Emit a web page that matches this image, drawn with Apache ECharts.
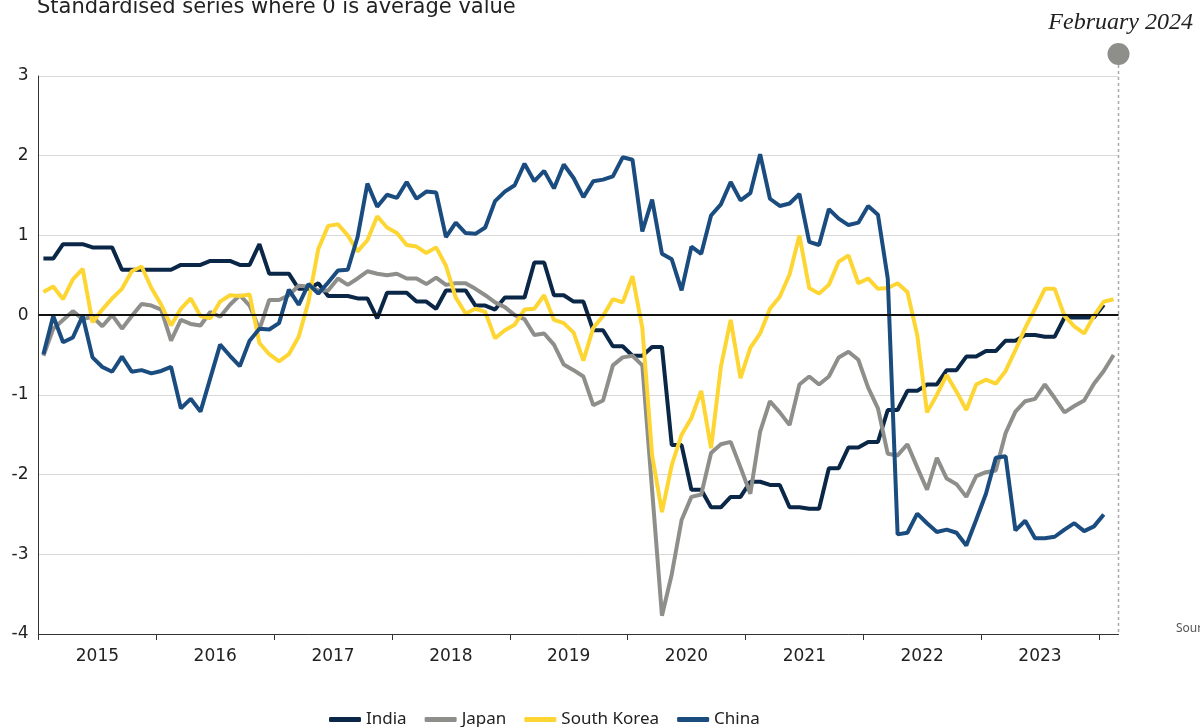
<!DOCTYPE html>
<html>
<head>
<meta charset="utf-8">
<script src="https://cdn.jsdelivr.net/npm/echarts@6/dist/echarts.min.js"></script>
<style>
html, body { margin: 0; padding: 0; background: #fff; }
#chart { width: 1200px; height: 727px; }
</style>
</head>
<body>
<div id="chart"></div>
<script>
// monthly, Jan 2015 .. Feb 2024
var years = ['2015', '2016', '2017', '2018', '2019', '2020', '2021', '2022', '2023'];
var yTicks = [-4, -3, -2, -1, 0, 1, 2, 3];

var india = [0.71, 0.71, 0.89, 0.89, 0.89, 0.85, 0.85, 0.85, 0.57, 0.57, 0.57, 0.57,
    0.57, 0.57, 0.63, 0.63, 0.63, 0.68, 0.68, 0.68, 0.63, 0.63, 0.89, 0.52,
    0.52, 0.52, 0.33, 0.33, 0.40, 0.24, 0.24, 0.24, 0.21, 0.21, -0.04, 0.28,
    0.28, 0.28, 0.17, 0.17, 0.08, 0.31, 0.31, 0.31, 0.12, 0.12, 0.07, 0.22,
    0.22, 0.22, 0.66, 0.66, 0.25, 0.25, 0.17, 0.17, -0.19, -0.19, -0.39, -0.39,
    -0.51, -0.51, -0.40, -0.40, -1.63, -1.63, -2.19, -2.19, -2.41, -2.41, -2.28, -2.28,
    -2.09, -2.09, -2.13, -2.13, -2.41, -2.41, -2.43, -2.43, -1.92, -1.92, -1.66, -1.66,
    -1.59, -1.59, -1.19, -1.19, -0.95, -0.95, -0.87, -0.87, -0.69, -0.69, -0.52, -0.52,
    -0.45, -0.45, -0.32, -0.32, -0.25, -0.25, -0.27, -0.27, -0.03, -0.03, -0.03, -0.03,
    0.13];

var japan = [-0.51, -0.17, -0.06, 0.05, -0.05, -0.02, -0.14, 0.00, -0.17, -0.01, 0.14, 0.12,
    0.07, -0.32, -0.06, -0.11, -0.13, 0.04, -0.02, 0.13, 0.25, 0.12, -0.18, 0.19,
    0.19, 0.25, 0.37, 0.36, 0.31, 0.31, 0.46, 0.38, 0.46, 0.55, 0.52, 0.50,
    0.52, 0.46, 0.46, 0.39, 0.47, 0.38, 0.40, 0.40, 0.33, 0.25, 0.16, 0.10,
    0.00, -0.05, -0.25, -0.23, -0.37, -0.62, -0.69, -0.77, -1.13, -1.07, -0.63, -0.53,
    -0.51, -0.63, -2.20, -3.77, -3.25, -2.57, -2.28, -2.25, -1.73, -1.62, -1.59, -1.91,
    -2.24, -1.46, -1.08, -1.22, -1.38, -0.87, -0.77, -0.87, -0.77, -0.53, -0.46, -0.56,
    -0.91, -1.17, -1.74, -1.76, -1.62, -1.91, -2.19, -1.79, -2.05, -2.12, -2.28, -2.02,
    -1.97, -1.95, -1.48, -1.21, -1.08, -1.05, -0.87, -1.04, -1.22, -1.14, -1.07, -0.86,
    -0.70, -0.50];

var southKorea = [0.29, 0.36, 0.20, 0.45, 0.58, -0.09, 0.07, 0.21, 0.33, 0.55, 0.61, 0.34,
    0.13, -0.13, 0.08, 0.21, -0.01, -0.04, 0.17, 0.25, 0.24, 0.26, -0.35, -0.49,
    -0.58, -0.49, -0.27, 0.17, 0.83, 1.12, 1.14, 1.00, 0.80, 0.94, 1.24, 1.10,
    1.03, 0.88, 0.86, 0.78, 0.85, 0.62, 0.22, 0.02, 0.08, 0.04, -0.29, -0.19,
    -0.12, 0.07, 0.08, 0.25, -0.06, -0.10, -0.22, -0.57, -0.16, -0.01, 0.20, 0.16,
    0.49, -0.16, -1.76, -2.47, -1.88, -1.50, -1.29, -0.95, -1.67, -0.65, -0.06, -0.79,
    -0.41, -0.23, 0.08, 0.23, 0.51, 1.00, 0.34, 0.27, 0.38, 0.67, 0.75, 0.40,
    0.46, 0.33, 0.34, 0.40, 0.29, -0.25, -1.22, -1.00, -0.75, -0.96, -1.19, -0.87,
    -0.81, -0.86, -0.70, -0.44, -0.16, 0.08, 0.33, 0.33, -0.01, -0.14, -0.23, -0.01,
    0.17, 0.20];

var china = [-0.49, -0.01, -0.34, -0.28, -0.01, -0.53, -0.65, -0.71, -0.52, -0.71, -0.69, -0.73,
    -0.70, -0.65, -1.17, -1.05, -1.21, -0.79, -0.37, -0.51, -0.64, -0.32, -0.17, -0.18,
    -0.10, 0.32, 0.13, 0.39, 0.27, 0.41, 0.56, 0.57, 0.98, 1.65, 1.36, 1.51,
    1.47, 1.67, 1.46, 1.55, 1.54, 0.98, 1.16, 1.03, 1.02, 1.10, 1.43, 1.55,
    1.63, 1.90, 1.68, 1.81, 1.59, 1.89, 1.72, 1.48, 1.68, 1.70, 1.74, 1.98,
    1.95, 1.05, 1.45, 0.77, 0.70, 0.31, 0.86, 0.77, 1.25, 1.39, 1.67, 1.44,
    1.53, 2.02, 1.46, 1.37, 1.40, 1.52, 0.92, 0.88, 1.33, 1.21, 1.13, 1.16,
    1.37, 1.26, 0.46, -2.75, -2.73, -2.49, -2.61, -2.72, -2.69, -2.73, -2.89, -2.57,
    -2.24, -1.79, -1.77, -2.70, -2.58, -2.80, -2.80, -2.78, -2.69, -2.61, -2.71, -2.65,
    -2.50];

var months = 110;
var yearTicks = [];
var yearLabels = [];
for (var k = 0; k < years.length + 1; k++) yearTicks.push(k * 12);
for (var k = 0; k < years.length; k++) yearLabels.push(k * 12 + 6);

function toPoints(arr) {
    return arr.map(function (v, i) { return [i + 0.5, v]; });
}

var font = '"Noto Sans", sans-serif';
var axisFont = '"DejaVu Sans", sans-serif';

var myChart = echarts.init(document.getElementById('chart'));

option = {
    animation: false,
    grid: {
        left: 38.5,
        right: 81.5,
        top: 76,
        bottom: 93
    },
    legend: {
        data: ['India', 'Japan', 'South Korea', 'China'],
        left: 324,
        top: 706,
        icon: 'roundRect',
        itemWidth: 32,
        itemHeight: 5,
        itemGap: 18,
        textStyle: { fontFamily: font, fontSize: 17, color: '#222' }
    },
    xAxis: {
        type: 'value',
        min: 0,
        max: months,
        splitLine: { show: false },
        axisLine: { onZero: false, lineStyle: { color: '#333', width: 1 } },
        axisTick: {
            customValues: yearTicks,
            length: 6,
            lineStyle: { color: '#333' }
        },
        axisLabel: {
            customValues: yearLabels,
            formatter: function (v) { return years[(v - 6) / 12]; },
            margin: 14,
            fontFamily: axisFont,
            fontSize: 17,
            color: '#222'
        }
    },
    yAxis: {
        type: 'value',
        min: yTicks[0],
        max: yTicks[yTicks.length - 1],
        interval: 1,
        axisLine: { show: true, onZero: false, lineStyle: { color: '#333', width: 1 } },
        axisTick: { show: false },
        splitLine: { lineStyle: { color: '#d9d9d9', width: 1 } },
        axisLabel: {
            margin: 10,
            fontFamily: axisFont,
            fontSize: 17,
            color: '#222'
        }
    },
    series: [
        {
            name: 'zero',
            type: 'line',
            data: [],
            z: 1,
            silent: true,
            markLine: {
                silent: true,
                symbol: 'none',
                label: { show: false },
                lineStyle: { color: '#111', width: 2, type: 'solid' },
                data: [{ yAxis: 0 }]
            }
        },
        {
            name: 'India',
            type: 'line',
            z: 3,
            showSymbol: false,
            data: toPoints(india),
            itemStyle: { color: '#0b2747' },
            lineStyle: { color: '#0b2747', width: 4 }
        },
        {
            name: 'Japan',
            type: 'line',
            z: 3,
            showSymbol: false,
            data: toPoints(japan),
            itemStyle: { color: '#8e8e8b' },
            lineStyle: { color: '#8e8e8b', width: 4 }
        },
        {
            name: 'South Korea',
            type: 'line',
            z: 3,
            showSymbol: false,
            data: toPoints(southKorea),
            itemStyle: { color: '#fed634' },
            lineStyle: { color: '#fed634', width: 4 }
        },
        {
            name: 'China',
            type: 'line',
            z: 3,
            showSymbol: false,
            data: toPoints(china),
            itemStyle: { color: '#1a4c7f' },
            lineStyle: { color: '#1a4c7f', width: 4 }
        }
    ]
};
myChart.setOption(option);

// marker for the latest month, titles and the cut-off source note
var endX = myChart.convertToPixel({ xAxisIndex: 0 }, months);
var baseY = myChart.convertToPixel({ yAxisIndex: 0 }, yTicks[0]);
myChart.setOption({
    graphic: [
        {
            type: 'text',
            left: 37,
            top: -3,
            style: { text: 'Standardised series where 0 is average value', font: '21px ' + axisFont, fill: '#222' }
        },
        {
            type: 'text',
            right: 7,
            top: 11,
            style: { text: 'February 2024', font: 'italic 24px "Liberation Serif", serif', fill: '#222' }
        },
        {
            type: 'line',
            shape: { x1: endX, y1: 65, x2: endX, y2: baseY },
            style: { stroke: '#a8a8a8', lineWidth: 1.5, lineDash: [3, 3] }
        },
        {
            type: 'circle',
            shape: { cx: endX, cy: 54, r: 11 },
            style: { fill: '#8e8e8b' }
        },
        {
            type: 'text',
            left: 1176,
            top: 623,
            style: { text: 'Source', font: '12px ' + font, fill: '#555' }
        }
    ]
});
</script>
</body>
</html>
